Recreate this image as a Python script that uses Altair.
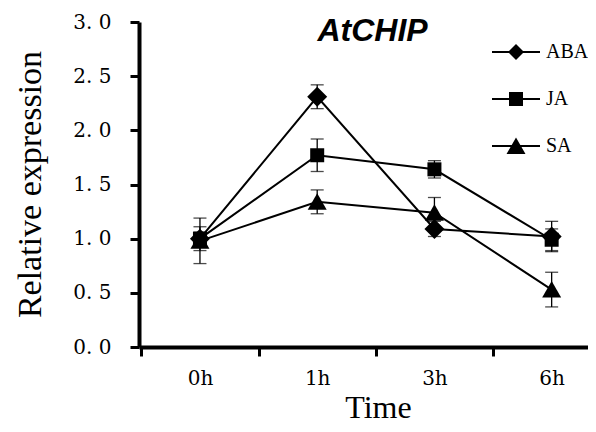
import json
import altair as alt
import pandas as pd

times = ["0h", "1h", "3h", "6h"]
series = ["ABA", "JA", "SA"]
aba = [1.00, 2.31, 1.09, 1.02]
aba_err = [0.06, 0.11, 0.07, 0.14]
ja = [1.00, 1.77, 1.64, 0.99]
ja_err = [0.11, 0.15, 0.08, 0.10]
sa = [0.98, 1.34, 1.24, 0.53]
sa_err = [0.21, 0.11, 0.14, 0.16]
y_ticks = [0, 0.5, 1.0, 1.5, 2.0, 2.5, 3.0]

rows = []
for name, vals, errs in [("ABA", aba, aba_err), ("JA", ja, ja_err), ("SA", sa, sa_err)]:
    for i, (t, v, e) in enumerate(zip(times, vals, errs)):
        rows.append({"time": t, "pos": i, "series": name, "value": v,
                     "lo": v - e, "hi": v + e})
df = pd.DataFrame(rows)

plot_shapes = [
    "M0,-1L1,0L0,1L-1,0Z",
    "M-0.7,-0.7H0.7V0.7H-0.7Z",
    "M0,-0.85L0.95,0.8H-0.95Z",
]
bar = "M-2.4,-0.1H2.4V0.1H-2.4Z"
legend_shapes = [
    bar + "M0,-0.8L0.8,0L0,0.8L-0.8,0Z",
    bar + "M-0.7,-0.7H0.7V0.7H-0.7Z",
    bar + "M0,-0.85L0.95,0.8H-0.95Z",
]

label_expr = ("datum.value % 1 === 0 ? " + json.dumps(times) +
              "[datum.value] : ''")

x_enc = alt.X(
    "pos:Q",
    scale=alt.Scale(domain=[-0.52, 3.31], nice=False, zero=False),
    axis=alt.Axis(
        values=[-0.5, 0, 0.5, 1, 1.5, 2, 2.5, 3],
        labelExpr=label_expr,
        tickOpacity={"condition": {"test": "datum.value % 1 !== 0", "value": 1}, "value": 0},
        title="Time",
        titleX=239,
        titleY=70,
        titleBaseline="alphabetic",
        titleFontSize=32,
        labelPadding=12,
    ),
)
y_enc = alt.Y(
    "value:Q",
    scale=alt.Scale(domain=[0, 3], nice=False),
    axis=alt.Axis(
        values=y_ticks,
        labelExpr="replace(format(datum.value, '.1f'), '.', '. ')",
        title="Relative expression",
        titleX=-99,
        titleY=162,
        titleBaseline="alphabetic",
        titleFontSize=34,
        labelPadding=19,
    ),
)

base = alt.Chart(df)

lines = base.mark_line(color="black", strokeWidth=2).encode(
    x=x_enc, y=y_enc, detail="series:N"
)
rules = base.mark_rule(color="black", strokeWidth=1.3).encode(
    x="pos:Q", y="lo:Q", y2="hi:Q"
)
cap_lo = base.mark_tick(color="black", size=13, thickness=1.3, orient="horizontal").encode(
    x="pos:Q", y="lo:Q"
)
cap_hi = base.mark_tick(color="black", size=13, thickness=1.3, orient="horizontal").encode(
    x="pos:Q", y="hi:Q"
)
points = base.mark_point(filled=True, color="black", size=400, opacity=1).encode(
    x="pos:Q", y="value:Q",
    shape=alt.Shape("series:N", scale=alt.Scale(domain=series, range=plot_shapes), legend=None),
)
legend_layer = base.transform_filter("false").mark_point(
    filled=True, color="black", size=400, opacity=1
).encode(
    x="pos:Q", y="value:Q",
    shape=alt.Shape(
        "series:N",
        scale=alt.Scale(domain=series, range=legend_shapes),
        legend=alt.Legend(
            title=None, orient="none", legendX=367, legendY=20,
            symbolSize=400, symbolFillColor="black", symbolOpacity=1,
            symbolStrokeWidth=0,
            labelFont="Liberation Serif", labelFontSize=20, labelOffset=20,
            rowPadding=27, padding=0, labelColor="black",
        ),
    ),
)

chart = alt.layer(lines, rules, cap_lo, cap_hi, points, legend_layer).resolve_scale(
    shape="independent"
).properties(
    width=449,
    height=325,
    autosize="none",
    padding={"left": 131, "top": 14, "right": 0, "bottom": 77},
    title=alt.TitleParams(
        "AtCHIP", font="Liberation Sans", fontSize=32, fontStyle="italic",
        fontWeight="bold", color="black", anchor="middle", dx=9, dy=40,
    ),
).configure_view(stroke=None).configure_axis(
    domainColor="black", domainWidth=4, tickColor="black", tickWidth=3,
    tickSize=9, labelFont="DejaVu Serif", labelFontSize=20, labelColor="black",
    titleFont="Liberation Serif", titleFontWeight="normal", titleColor="black",
    grid=False,
)

chart.save("out.html", embed_options={"renderer": "svg", "actions": False})
